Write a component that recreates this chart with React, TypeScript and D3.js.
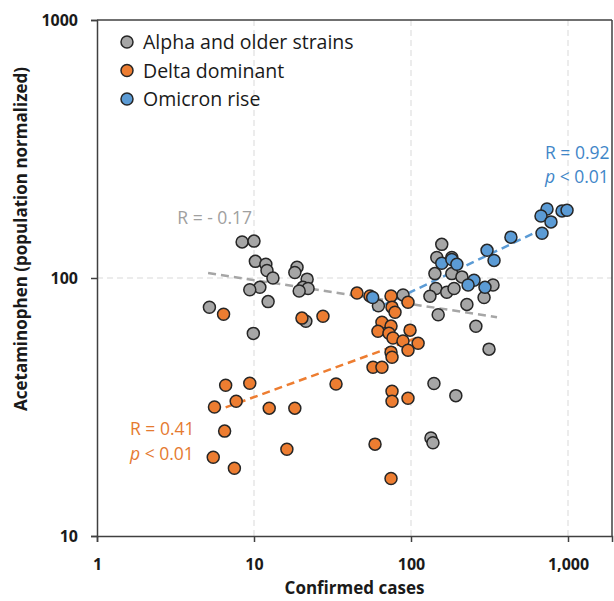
import React, { useEffect, useRef } from "react";
import * as d3 from "d3";

// [confirmed cases, acetaminophen]
const alphaPoints: [number, number][] = [
  [8.4, 138], [10.0, 139], [10.2, 116], [11.9, 113], [12.1, 107], [13.2, 100],
  [18.8, 110], [18.2, 105], [21.8, 99], [20.5, 92], [22.1, 91], [19.4, 89],
  [10.9, 92], [9.4, 90], [12.3, 81], [5.2, 77], [9.9, 61], [21.4, 68],
  [157, 135], [146, 120], [182, 120], [142, 104], [182, 104], [211, 101],
  [144, 91], [169, 88], [188, 91], [132, 85], [292, 84], [333, 94],
  [227, 79], [149, 72], [259, 65], [314, 53], [140, 39], [193, 35],
  [134, 24], [138, 23], [62, 78], [89, 86],
];

const deltaPoints: [number, number][] = [
  [45.3, 87.4], [54.8, 85.1], [74.6, 85.1], [95.7, 80.6], [75.7, 77.1], [79.1, 73.7],
  [27.5, 71.1], [65.3, 67.4], [74.6, 65.1], [61.6, 62.2], [72.4, 61.1], [76.8, 58.5],
  [98.6, 62.8], [88.9, 57.0], [111, 55.9], [95.7, 52.5], [74.6, 51.6], [75.7, 49.3],
  [57.3, 45.1], [65.3, 45.1], [33.3, 38.8], [75.7, 36.4], [75.7, 33.3], [95.7, 34.2],
  [59.0, 22.7], [74.6, 16.7], [6.4, 72.4], [20.2, 69.9], [6.6, 38.4], [9.4, 39.1],
  [7.7, 33.3], [5.6, 31.6], [12.5, 31.3], [18.2, 31.3], [6.5, 25.5], [16.2, 21.7],
  [5.5, 20.2], [7.5, 18.3],
];

const omicronPoints: [number, number][] = [
  [735, 185], [673, 174], [779, 165], [916, 182], [986, 183], [683, 149],
  [433, 144], [305, 128], [338, 117], [157, 114], [182, 118], [196, 113],
  [252, 98], [231, 94], [296, 92], [57, 84],
];

// dashed fits, start and end
const alphaTrend: [number, number][] = [[5.1, 104.5], [353, 70.5]];
const deltaTrend: [number, number][] = [[6.6, 31.5], [113, 59.1]];
const omicronTrend: [number, number][] = [[57, 75], [690, 155]];

const xTicks = [1, 10, 100, 1000];
const yTicks = [10, 100, 1000];
const legendLabels = ["Alpha and older strains", "Delta dominant", "Omicron rise"];

const GRAY = "#a6a6a6";
const ORANGE = "#ed7d31";
const BLUE = "#5b9bd5";

const App = () => {
  const ref = useRef<SVGSVGElement>(null);

  useEffect(() => {
    const svg = d3.select(ref.current);
    svg.selectAll("*").remove();

    const left = 97, right = 612, top = 20, bottom = 536;
    const font = "'Open Sans', sans-serif";

    const x = d3.scaleLog().domain([1, Math.pow(10, (right - left) / 157)]).range([left, right]);
    const y = d3.scaleLog().domain([10, 1000]).range([bottom, top]);

    // grid
    const grid = svg.append("g").attr("stroke", "#d9d9d9").attr("stroke-dasharray", "6,4");
    [10, 100, 1000].forEach((t) => {
      grid.append("line").attr("x1", x(t)).attr("x2", x(t)).attr("y1", top).attr("y2", bottom);
    });
    grid.append("line").attr("x1", left).attr("x2", right).attr("y1", y(100)).attr("y2", y(100));

    // frame
    svg.append("line").attr("x1", left).attr("x2", right).attr("y1", top).attr("y2", top)
      .attr("stroke", "#404040").attr("stroke-width", 1.5);
    svg.append("line").attr("x1", right).attr("x2", right).attr("y1", top).attr("y2", bottom)
      .attr("stroke", "#404040").attr("stroke-width", 1.5);

    const xAxis = svg.append("g").attr("transform", `translate(0,${bottom})`)
      .call(d3.axisBottom(x).tickValues(xTicks).tickSize(6).tickFormat(d3.format(",") as any));
    const yAxis = svg.append("g").attr("transform", `translate(${left},0)`)
      .call(d3.axisLeft(y).tickValues(yTicks).tickSize(6).tickFormat(d3.format("d") as any));

    [xAxis, yAxis].forEach((a) => {
      a.select(".domain").attr("stroke", "#404040").attr("stroke-width", 1.5);
      a.selectAll(".tick line").attr("stroke", "#404040").attr("stroke-width", 1.5);
      a.selectAll(".tick text").attr("fill", "#1a1a1a").attr("font-family", font)
        .attr("font-size", 16).attr("font-weight", "bold");
    });
    xAxis.selectAll(".tick text").attr("dy", 0).attr("y", 34);
    yAxis.selectAll(".tick text").attr("x", -19);

    // axis titles
    svg.append("text").attr("x", (left + right) / 2).attr("y", 594).attr("text-anchor", "middle")
      .attr("font-family", font).attr("font-size", 17).attr("font-weight", "bold").attr("fill", "#1a1a1a")
      .text("Confirmed cases");
    svg.append("text").attr("transform", `translate(27,239) rotate(-90)`).attr("text-anchor", "middle")
      .attr("font-family", font).attr("font-size", 17).attr("font-weight", "bold").attr("fill", "#1a1a1a")
      .text("Acetaminophen (population normalized)");

    // trend lines
    const line = d3.line<[number, number]>().x((d) => x(d[0])).y((d) => y(d[1]));
    [[alphaTrend, GRAY], [deltaTrend, ORANGE], [omicronTrend, BLUE]].forEach(([data, c]: any) => {
      svg.append("path").datum(data).attr("d", line).attr("fill", "none").attr("stroke", c)
        .attr("stroke-width", 2.5).attr("stroke-dasharray", "8,5");
    });

    // points
    const series: [[number, number][], string][] = [
      [alphaPoints, GRAY], [deltaPoints, ORANGE], [omicronPoints, BLUE],
    ];
    series.forEach(([pts, c]) => {
      svg.append("g").selectAll("circle").data(pts).enter().append("circle")
        .attr("cx", (d) => x(d[0])).attr("cy", (d) => y(d[1])).attr("r", 6)
        .attr("fill", c).attr("stroke", "#262626").attr("stroke-width", 1.5);
    });

    // annotations
    const ann = (tx: number, ty: number, anchor: string, c: string, parts: [string, boolean][]) => {
      const t = svg.append("text").attr("x", tx).attr("y", ty).attr("text-anchor", anchor)
        .attr("font-family", font).attr("font-size", 17.5).attr("fill", c);
      parts.forEach(([s, it]) => t.append("tspan").attr("font-style", it ? "italic" : "normal").text(s));
    };
    ann(252, 224, "end", "#a0a0a0", [["R = - 0.17", false]]);
    ann(545, 159, "start", "#3f86c8", [["R = 0.92", false]]);
    ann(545, 183, "start", "#3f86c8", [["p", true], [" < 0.01", false]]);
    ann(130, 435, "start", "#e57a30", [["R = 0.41", false]]);
    ann(130, 460, "start", "#e57a30", [["p", true], [" < 0.01", false]]);

    // legend
    const legend = svg.append("g").attr("transform", "translate(127,42)");
    legendLabels.forEach((lab, i) => {
      const g = legend.append("g").attr("transform", `translate(0,${i * 28.5})`);
      g.append("circle").attr("r", 6).attr("fill", [GRAY, ORANGE, BLUE][i])
        .attr("stroke", "#262626").attr("stroke-width", 1.5);
      g.append("text").attr("x", 16).attr("y", 7).attr("font-family", font).attr("font-size", 19.5)
        .attr("fill", "#1a1a1a").text(lab);
    });
  }, []);

  return (
    <svg ref={ref} width={614} height={601}
      style={{ position: "absolute", left: 0, top: 0, background: "#fff" }} />
  );
};

export default App;
